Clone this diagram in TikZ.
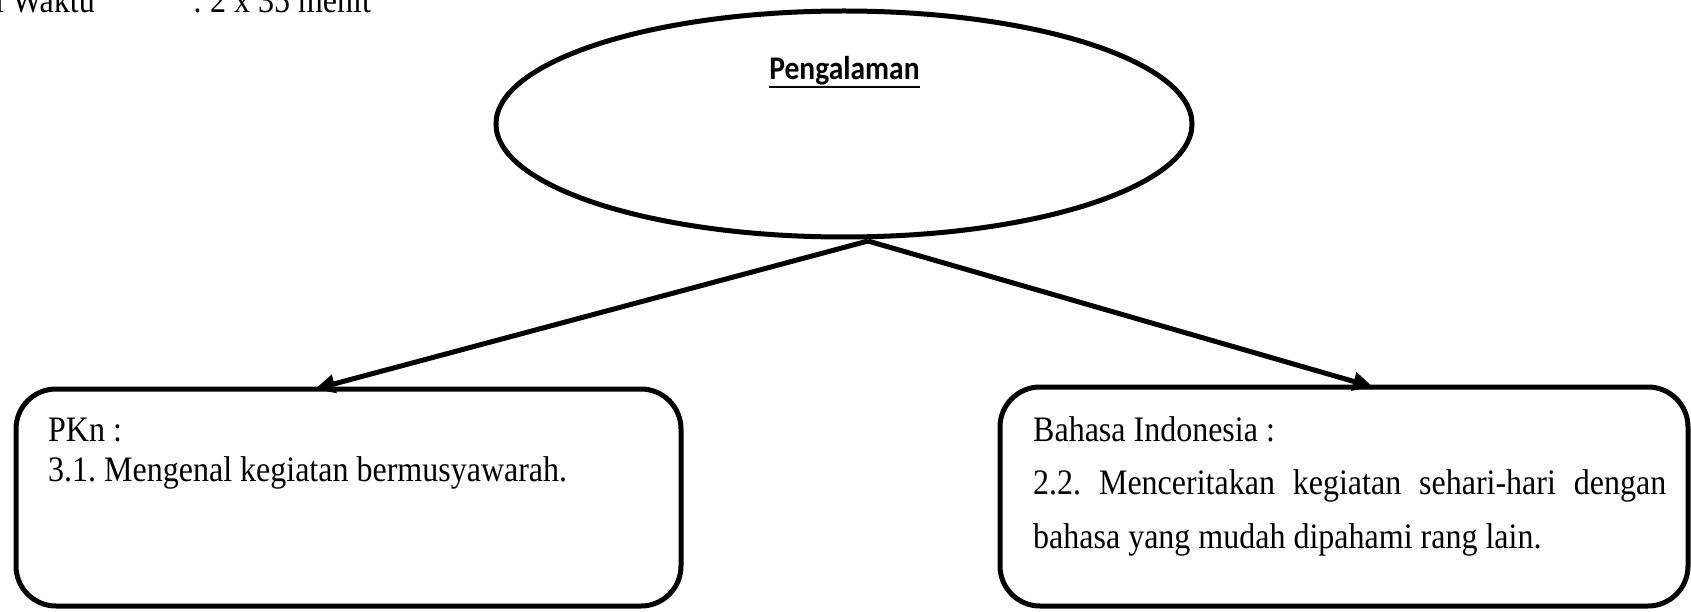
\documentclass[tikz,border=0pt]{standalone}
\usepackage{fontspec}
\setmainfont{Liberation Serif}
\newfontfamily\judulfont{Carlito}
\usetikzlibrary{arrows.meta, shapes.geometric}
\tikzset{
	bubble/.style={
		ellipse,
		draw,
		line width=5pt,
		minimum width=696pt,
		minimum height=226pt,
		inner sep=0pt
	},
	kotak/.style={
		draw,
		line width=5pt,
		rounded corners=40pt,
		inner sep=0pt,
		outer sep=0pt
	},
	tulisan/.style={
		anchor=base west,
		inner sep=0pt,
		yscale=1.12,
		transform shape
	},
	isi/.style={
		tulisan,
		align=justify
	},
	panah/.style={
		-{Triangle[length=20pt, width=18pt]},
		line width=5pt
	}
}

\begin{document}
\frenchspacing
\begin{tikzpicture}[x=1pt, y=1pt]
\useasboundingbox (0,0) rectangle (1691,-612);
\clip (0,0) rectangle (1691,-612);

% header line, cut off at the top
\node[tulisan, font=\fontsize{32}{38}\selectfont] (waktu) at (-5,-13) {i Waktu};
\node[tulisan, font=\fontsize{32}{38}\selectfont] (durasi) at (193,-13) {: 2 x 35 menit};

\node[bubble] (tema) at (844,-124) {};
\node[tulisan, anchor=base, font=\judulfont\bfseries\fontsize{29.5}{35}\selectfont] (judul) at (844.5,-80) {Pengalaman};
\draw[line width=2.5pt] ([yshift=-1pt]judul.south west) -- ([yshift=-1pt]judul.south east);

\node[kotak, minimum width=665pt, minimum height=217pt] (pkn) at (348.5,-497.5) {};
\node[kotak, minimum width=688pt, minimum height=219pt] (bindo) at (1344,-496.5) {};

\node[isi, text width=600pt, font=\fontsize{32}{36.6}\selectfont] (pkntxt) at (48,-441)
	{PKn :\\ 3.1. Mengenal kegiatan bermusyawarah.};
\node[isi, text width=633pt, font=\fontsize{32}{48.2}\selectfont] (bindotxt) at (1033,-441)
	{Bahasa Indonesia :\\ 2.2. Menceritakan kegiatan sehari-hari dengan\linebreak bahasa yang mudah dipahami rang lain.};

\coordinate (pangkal) at (868,-241);
\draw[panah] (pangkal) -- ([xshift=-33.5pt]pkn.north);
\draw[panah] (pangkal) -- ([xshift=29pt]bindo.north);
\end{tikzpicture}
\end{document}
